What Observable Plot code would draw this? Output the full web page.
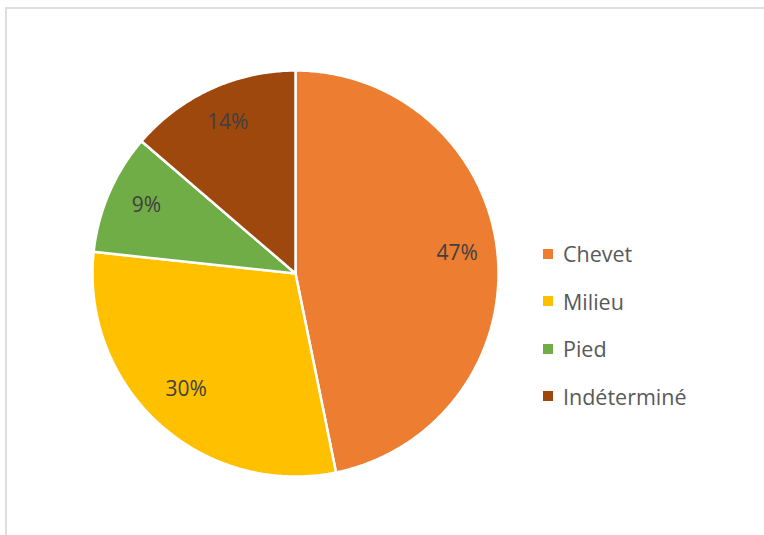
<!DOCTYPE html>
<html>
<head>
<meta charset="utf-8">
<script src="https://cdn.jsdelivr.net/npm/d3@7"></script>
<script src="https://cdn.jsdelivr.net/npm/@observablehq/plot@0.6"></script>
<style>
  html, body { margin: 0; padding: 0; background: #fff; }
  #wrap { position: relative; width: 764px; height: 535px; overflow: hidden; font-family: "Open Sans", "Noto Sans", sans-serif; }
  #frame { position: absolute; left: 5px; top: 7px; right: -10px; bottom: -10px; border-top: 2px solid #dedede; border-left: 2px solid #dedede; }
  #chart { position: absolute; left: 0; top: 0; }
  #legend { position: absolute; left: 543px; top: 230px; }
  .item { display: flex; align-items: center; height: 47.5px; font-size: 21.5px; color: #595959; }
  .sw { width: 10px; height: 10px; margin-right: 10px; }
</style>
</head>
<body>
<div id="wrap"><div id="frame"></div><div id="chart"></div><div id="legend"></div></div>
<script>
const categories = ["Chevet", "Milieu", "Pied", "Indéterminé"];
const values = [46.8, 29.9, 9.6, 13.7];
const labels = ["47%", "30%", "9%", "14%"];
const colors = ["#ED7D31", "#FFC000", "#70AD47", "#9E480E"];

const pie = d3.pie().sort(null).value(d => d.value);
const rows = categories.map((c, i) => ({name: c, value: values[i], label: labels[i]}));
const arcs = pie(rows);

// polygon outline of each slice in unit-circle data space (angle 0 at top, clockwise)
const pts = [];
arcs.forEach(a => {
  const n = Math.max(2, Math.ceil((a.endAngle - a.startAngle) / 0.01));
  pts.push({name: a.data.name, x: 0, y: 0});
  for (let k = 0; k <= n; k++) {
    const t = a.startAngle + (a.endAngle - a.startAngle) * k / n;
    pts.push({name: a.data.name, x: Math.sin(t), y: Math.cos(t)});
  }
  pts.push({name: a.data.name, x: 0, y: 0});
});

const lr = 0.8;
const labelPts = arcs.map(a => {
  const m = (a.startAngle + a.endAngle) / 2;
  return {label: a.data.label, x: lr * Math.sin(m), y: lr * Math.cos(m)};
});

const plot = Plot.plot({
  width: 764,
  height: 535,
  margin: 0,
  x: {domain: [-1, 1], range: [92, 498], axis: null},
  y: {domain: [-1, 1], range: [476, 70], axis: null},
  color: {domain: categories, range: colors},
  style: {fontFamily: "'Open Sans', 'Noto Sans', sans-serif", background: "transparent"},
  marks: [
    Plot.line(pts, {x: "x", y: "y", z: "name", fill: "name", stroke: "white", strokeWidth: 2.5, strokeLinejoin: "miter", curve: "linear"}),
    Plot.text(labelPts, {x: "x", y: "y", text: "label", fill: "#404040", fontSize: 21, dy: -4})
  ]
});
document.getElementById("chart").appendChild(plot);

const lg = document.getElementById("legend");
categories.forEach((c, i) => {
  const d = document.createElement("div");
  d.className = "item";
  d.innerHTML = `<span class="sw" style="background:${colors[i]}"></span><span>${c}</span>`;
  lg.appendChild(d);
});
</script>
</body>
</html>
